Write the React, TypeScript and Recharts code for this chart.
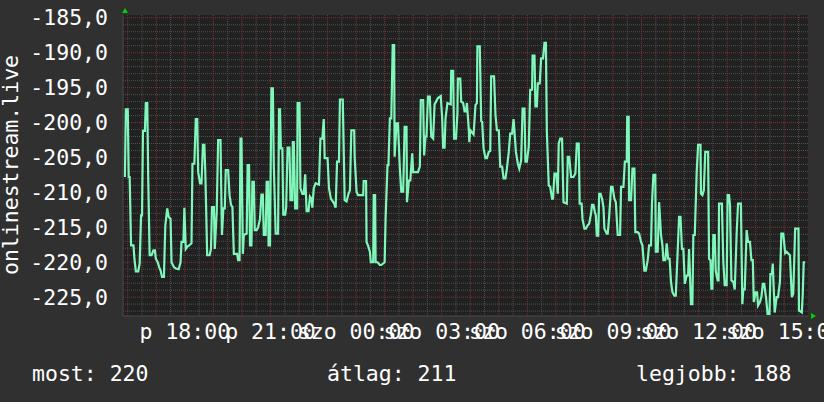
import React from 'react';
import { LineChart, Line, XAxis, YAxis, CartesianGrid, ReferenceLine } from 'recharts';

// minutes since Friday 15:50 (5-minute samples, read at the drawn vertices)
const minutesFromStart = [
  4, 6, 10, 12, 14, 17, 22, 24, 27, 32, 35, 38, 40, 42, 46, 48, 51, 53, 56, 60,
  64, 67, 69, 73, 76, 79, 82, 86, 89, 93, 96, 100, 102, 107, 111, 117, 121, 123, 127, 129,
  132, 135, 139, 144, 146, 150, 153, 156, 158, 162, 165, 168, 171, 173, 177, 182, 185, 187, 191, 193,
  197, 200, 205, 208, 211, 214, 216, 221, 224, 227, 230, 233, 240, 242, 245, 247, 249, 252, 254, 260,
  262, 265, 267, 270, 272, 275, 277, 281, 284, 288, 291, 294, 296, 300, 302, 305, 306, 309, 312, 315,
  317, 321, 326, 328, 330, 332, 335, 337, 341, 343, 346, 350, 352, 356, 357, 359, 362, 366, 367, 371,
  373, 377, 380, 383, 386, 390, 393, 396, 398, 401, 405, 412, 415, 419, 422, 424, 430, 433, 437, 444,
  447, 450, 454, 456, 462, 464, 466, 470, 474, 477, 480, 486, 487, 491, 494, 505, 506, 511, 512, 515,
  519, 521, 526, 527, 530, 531, 535, 540, 543, 550, 552, 556, 558, 561, 564, 567, 570, 571, 575, 578,
  582, 585, 589, 592, 596, 597, 601, 604, 608, 610, 620, 624, 626, 631, 633, 636, 638, 641, 645, 648,
  652, 655, 662, 668, 671, 673, 676, 678, 682, 689, 690, 694, 696, 700, 703, 704, 709, 711, 715, 718,
  721, 723, 727, 728, 730, 737, 741, 744, 745, 750, 753, 755, 758, 762, 765, 769, 772, 774, 780, 783,
  786, 790, 793, 797, 800, 804, 807, 811, 814, 818, 821, 823, 826, 830, 833, 837, 840, 844, 846, 849,
  853, 856, 860, 861, 865, 867, 870, 872, 876, 879, 883, 886, 889, 891, 895, 898, 902, 904, 907, 911,
  914, 916, 919, 923, 926, 933, 935, 938, 942, 947, 951, 954, 958, 960, 964, 966, 970, 973, 977, 980,
  984, 986, 989, 992, 994, 996, 999, 1001, 1004, 1007, 1010, 1012, 1017, 1019, 1022, 1026, 1029, 1033, 1036, 1040,
  1045, 1047, 1052, 1055, 1059, 1060, 1063, 1064, 1068, 1071, 1075, 1077, 1082, 1085, 1089, 1092, 1096, 1099, 1103, 1106,
  1110, 1112, 1115, 1119, 1120, 1124, 1127, 1131, 1134, 1136, 1140, 1143, 1146, 1149, 1152, 1155, 1159, 1162, 1166, 1169,
  1172, 1175, 1178, 1181, 1185, 1188, 1190, 1194, 1197, 1199, 1202, 1206, 1209, 1214, 1215, 1218, 1221, 1224, 1230, 1232,
  1235, 1237, 1239, 1241, 1244, 1246, 1250, 1252, 1253, 1259, 1262, 1265, 1269, 1271, 1274, 1276, 1279, 1283, 1286, 1290,
  1293, 1299, 1302, 1304, 1307, 1311, 1314, 1318, 1321, 1324, 1326, 1330, 1333, 1335, 1339, 1342, 1345, 1348, 1352, 1355,
  1359, 1361, 1364, 1366, 1368, 1370, 1374, 1377, 1381, 1384, 1388, 1392, 1395, 1399, 1402, 1406, 1409, 1413, 1420, 1421,
  1427, 1429, 1431, 1434,
];

const signalValues = [
  -207.8, -198.1, -198.1, -207.8, -207.8, -217.6, -217.6, -219.5, -221.3, -221.3, -220.2, -213.3, -213.3, -201.2, -201.2, -197.2, -197.2, -208.0, -219.0, -219.0,
  -218.3, -218.3, -219.5, -220.0, -220.7, -221.2, -222.1, -222.1, -214.7, -212.3, -213.5, -213.8, -220.0, -220.7, -220.9, -221.0, -220.0, -217.1, -217.1, -212.2,
  -218.1, -217.8, -217.6, -217.3, -205.9, -205.9, -199.5, -199.5, -207.1, -208.7, -208.7, -203.2, -203.2, -207.1, -219.0, -219.0, -218.1, -212.1, -212.1, -218.1,
  -212.8, -202.5, -202.5, -216.1, -212.3, -212.3, -206.8, -206.8, -210.4, -211.8, -212.1, -218.8, -218.8, -219.7, -219.7, -202.3, -202.3, -218.8, -216.1, -215.9,
  -206.1, -206.1, -217.6, -217.6, -208.5, -208.5, -215.4, -215.4, -215.0, -213.8, -210.3, -210.3, -216.1, -216.1, -208.5, -208.5, -217.6, -217.6, -195.1, -195.1,
  -206.1, -215.9, -215.9, -198.1, -198.1, -203.7, -203.7, -213.2, -213.2, -212.1, -203.6, -203.6, -211.1, -211.1, -202.8, -202.8, -212.3, -212.3, -197.2, -197.2,
  -209.4, -210.2, -210.2, -207.4, -212.7, -212.7, -210.6, -210.9, -212.2, -209.4, -208.7, -208.9, -202.3, -202.3, -199.5, -205.1, -205.1, -209.4, -210.9, -211.6,
  -212.2, -205.6, -205.6, -196.7, -196.7, -203.9, -211.1, -211.3, -210.2, -209.7, -201.1, -201.1, -204.9, -209.9, -210.4, -210.4, -208.4, -208.4, -217.1, -217.6,
  -218.5, -220.0, -220.0, -210.4, -210.4, -220.0, -220.0, -220.4, -220.4, -220.0, -213.8, -206.1, -206.1, -199.4, -199.4, -188.9, -188.9, -204.9, -200.1, -200.1,
  -206.6, -209.9, -209.9, -200.6, -200.6, -211.4, -208.3, -208.3, -204.4, -207.1, -207.1, -206.3, -196.8, -196.8, -204.7, -202.0, -202.0, -196.3, -196.3, -202.0,
  -202.3, -197.4, -196.5, -196.2, -199.4, -203.6, -203.6, -199.4, -197.2, -197.4, -192.6, -192.6, -202.3, -202.3, -198.7, -193.7, -193.7, -197.0, -197.2, -198.4,
  -198.4, -197.2, -201.1, -202.8, -201.1, -201.7, -197.5, -197.2, -189.1, -189.1, -199.8, -199.9, -203.7, -205.1, -205.1, -204.2, -204.1, -193.4, -193.4, -198.9,
  -201.1, -201.1, -206.3, -206.3, -208.0, -208.0, -206.6, -204.2, -201.6, -201.6, -199.5, -201.3, -204.2, -205.9, -206.6, -205.4, -198.0, -198.0, -205.6, -205.6,
  -203.5, -195.3, -195.3, -190.4, -190.4, -197.7, -197.7, -194.4, -194.4, -190.8, -190.8, -188.6, -188.6, -201.3, -209.0, -209.2, -210.9, -210.9, -207.3, -207.3,
  -210.2, -203.0, -202.3, -202.3, -211.4, -211.6, -204.9, -204.9, -207.8, -207.8, -207.3, -203.0, -203.0, -211.6, -211.6, -213.8, -215.2, -215.2, -214.7, -214.5,
  -213.0, -211.8, -211.8, -212.8, -213.3, -216.2, -216.2, -210.2, -210.2, -210.9, -212.1, -215.2, -215.9, -215.9, -213.5, -209.2, -209.2, -210.9, -211.4, -216.1,
  -216.1, -209.2, -209.2, -205.6, -205.6, -199.2, -199.2, -211.1, -211.1, -206.6, -206.6, -215.7, -215.7, -215.9, -217.1, -217.6, -221.2, -221.2, -219.7, -217.6,
  -217.6, -211.6, -207.5, -207.5, -218.5, -218.5, -211.4, -216.1, -217.6, -219.7, -219.7, -217.3, -219.5, -219.5, -222.8, -224.3, -224.8, -224.8, -218.5, -213.5,
  -213.5, -218.1, -218.1, -223.1, -221.9, -221.9, -218.1, -226.0, -226.0, -216.1, -216.1, -207.1, -203.2, -203.2, -210.2, -210.4, -209.7, -204.2, -204.2, -219.5,
  -219.7, -223.8, -223.8, -216.1, -216.1, -221.2, -222.6, -222.6, -211.6, -211.6, -220.0, -223.3, -223.3, -210.4, -210.4, -211.8, -222.6, -222.8, -223.9, -215.9,
  -211.6, -211.6, -226.0, -223.9, -223.9, -215.4, -217.1, -217.1, -219.7, -219.7, -225.7, -224.3, -224.3, -226.2, -225.7, -225.0, -223.1, -223.1, -225.2, -227.4,
  -227.4, -221.7, -221.7, -220.2, -223.9, -227.2, -225.0, -225.0, -222.8, -215.9, -215.9, -218.7, -218.5, -218.8, -219.0, -225.0, -224.5, -215.2, -215.2, -226.9,
  -227.2, -224.5, -220.0, -220.0,
];

const xTickMinutes = [130, 310, 490, 670, 850, 1030, 1210, 1390];
const xTickLabels = ['p 18:00', 'p 21:00', 'szo 00:00', 'szo 03:00', 'szo 06:00', 'szo 09:00', 'szo 12:00', 'szo 15:00'];
const yTicks = [-225, -220, -215, -210, -205, -200, -195, -190, -185];

const seriesName = 'onlinestream.live';
const legendItems = ['most: 220', 'átlag: 211', 'legjobb: 188'];

const yMinorGrid = Array.from({ length: 43 }, (_, i) => -227 + i).filter((v) => v % 5 !== 0);
const xHourGrid = Array.from({ length: 24 }, (_, i) => 10 + i * 60);
const xHalfGrid = Array.from({ length: 24 }, (_, i) => 40 + i * 60);

const data = minutesFromStart.map((t, i) => ({ t, v: signalValues[i] }));

const FONT = 'DejaVu Sans Mono';
const FS = 21.5;
const MINOR = '#505050';
const MAJOR = '#7e3434';

export default function App() {
  return (
    <div style={{ position: 'absolute', left: 0, top: 0, width: 824, height: 402, background: '#303030' }}>
      <LineChart width={824} height={402} data={data} margin={{ top: 15, right: 16, left: 0, bottom: 0 }}>
        <CartesianGrid fill="#212121" horizontal={false} vertical={false} stroke="none" />
        {yMinorGrid.map((v) => (
          <ReferenceLine key={'ym' + v} y={v} stroke={MINOR} strokeDasharray="1 1" strokeWidth={1} />
        ))}
        {xHalfGrid.map((m) => (
          <ReferenceLine key={'xm' + m} x={m} stroke={MINOR} strokeDasharray="1 1" strokeWidth={1} />
        ))}
        {yTicks.map((v) => (
          <ReferenceLine key={'yM' + v} y={v} stroke={MAJOR} strokeDasharray="1 1" strokeWidth={1} />
        ))}
        {xHourGrid.map((m) => (
          <ReferenceLine key={'xM' + m} x={m} stroke={MAJOR} strokeDasharray="1 1" strokeWidth={1} />
        ))}
        <XAxis
          type="number"
          dataKey="t"
          domain={[0, 1440]}
          ticks={xTickMinutes}
          interval={0}
          tickFormatter={(m) => xTickLabels[xTickMinutes.indexOf(m)] ?? ''}
          height={86}
          tickLine={false}
          tickSize={0}
          tickMargin={8}
          axisLine={{ stroke: '#4a4a4a' }}
          tick={{ fill: '#ffffff', fontSize: FS, fontFamily: FONT }}
          allowDataOverflow
        />
        <YAxis
          type="number"
          domain={[-227.7, -184.6]}
          ticks={yTicks}
          interval={0}
          width={123}
          tickLine={false}
          tickSize={0}
          tickMargin={15}
          axisLine={{ stroke: '#4a4a4a' }}
          tickFormatter={(v) => v.toFixed(1).replace('.', ',')}
          tick={{ fill: '#ffffff', fontSize: FS, fontFamily: FONT }}
          allowDataOverflow
        />
        <Line
          type="linear"
          dataKey="v"
          stroke="#80f7ba"
          strokeWidth={2.2}
          dot={false}
          activeDot={false}
          isAnimationActive={false}
        />
      </LineChart>
      <svg width={824} height={402} style={{ position: 'absolute', left: 0, top: 0, pointerEvents: 'none' }}>
        <text
          x={18}
          y={165}
          transform="rotate(-90 18 165)"
          textAnchor="middle"
          fill="#ffffff"
          fontSize={FS}
          fontFamily={FONT}
        >
          {seriesName}
        </text>
        <text x={32} y={381} fill="#ffffff" fontSize={FS} fontFamily={FONT}>{legendItems[0]}</text>
        <text x={327} y={381} fill="#ffffff" fontSize={FS} fontFamily={FONT}>{legendItems[1]}</text>
        <text x={636} y={381} fill="#ffffff" fontSize={FS} fontFamily={FONT}>{legendItems[2]}</text>
        <polygon points="122,13 128,13 125,8" fill="#00d000" />
        <polygon points="811,313 811,319 816,316" fill="#00d000" />
      </svg>
    </div>
  );
}
